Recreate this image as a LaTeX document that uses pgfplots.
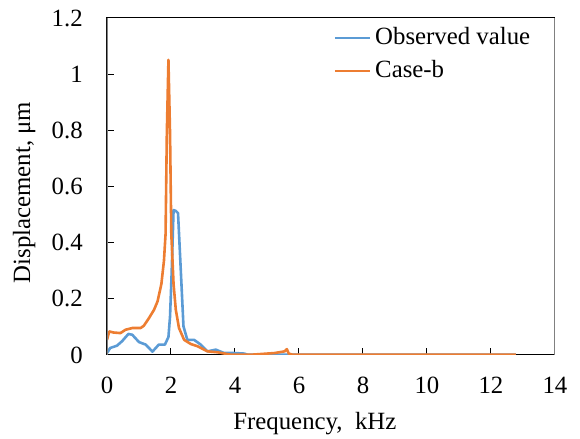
\documentclass[border=0pt]{standalone}
\usepackage{pgfplots}
\pgfplotsset{compat=1.18}
\usepackage{fontspec}
\setmainfont{Liberation Serif}
\definecolor{obsblue}{HTML}{5B9BD5}
\definecolor{caseorange}{HTML}{ED7D31}
\begin{document}
\fontsize{12.4}{14.5}\selectfont
\begin{tikzpicture}
\path[use as bounding box] (-53.5pt,-42pt) rectangle (236.5pt,177.5pt);
\begin{axis}[
  at={(0,0)}, anchor=south west,
  scale only axis, width=224pt, height=168.5pt,
  xmin=0, xmax=14, ymin=0, ymax=1.2,
  xtick={0,2,...,14}, ytick={0,0.2,...,1.2},
  tick align=inside, xtick pos=bottom, ytick pos=left,
  major tick length=3.5pt,
  tick style={black, line width=0.5pt},
  axis line style={black, line width=0.5pt},
  xticklabel={\rmfamily\pgfmathprintnumber[assume math mode=true]{\tick}},
  yticklabel={\rmfamily\pgfmathprintnumber[assume math mode=true,fixed,precision=1]{\tick}},
  every tick label/.append style={font=\rmfamily\fontsize{12.4}{14.5}\selectfont, text=black},
  every x tick label/.append style={yshift=-6.6pt},
  every y tick label/.append style={xshift=-7.8pt},
  xlabel={Frequency,\ \ kHz}, ylabel={Displacement, μm},
  label style={font=\fontsize{12.4}{14.5}\selectfont},
  xlabel style={at={(axis description cs:0.464,-0.2047)}, anchor=center},
  ylabel style={at={(axis description cs:-0.185,0.482)}, anchor=center, rotate=0},
  legend style={at={(0.505,0.985)}, anchor=north west, draw=none, fill=none,
    font=\fontsize{12.4}{14.5}\selectfont, inner sep=0pt, row sep=2pt,
    legend cell align=left},
  legend image code/.code={\draw[#1] (0pt,0pt) -- (17.5pt,0pt);},
  every axis plot/.append style={line width=1.3pt, line join=round},
]
\addplot[obsblue, mark=none] coordinates {
(0,0.007) (0.1,0.025) (0.31,0.033) (0.47,0.049) (0.67,0.075) (0.79,0.072)
(1.0,0.046) (1.21,0.037) (1.42,0.012) (1.62,0.037) (1.81,0.037) (1.92,0.064)
(1.97,0.137) (2.02,0.29) (2.08,0.516) (2.15,0.513) (2.22,0.505) (2.30,0.316)
(2.39,0.102) (2.51,0.054) (2.72,0.054) (2.93,0.037) (3.14,0.013) (3.40,0.019)
(3.66,0.007) (3.98,0.007) (4.29,0.005) (4.4,0.001) (5.0,0.001) (6.0,0.001)
(7.0,0.001) (8.0,0.001) (9.0,0.001) (10.0,0.001) (11.0,0.001) (12.0,0.001) (12.78,0.001)
};
\addlegendentry{Observed value}
\addplot[caseorange, mark=none] coordinates {
(0,0.054) (0.07,0.084) (0.21,0.080) (0.42,0.078) (0.58,0.09) (0.79,0.096)
(1.05,0.096) (1.15,0.104) (1.31,0.131) (1.47,0.161) (1.58,0.191) (1.70,0.253)
(1.78,0.336) (1.83,0.43) (1.87,0.79) (1.92,1.051) (1.97,0.79) (2.01,0.43)
(2.08,0.253) (2.15,0.161) (2.25,0.096) (2.41,0.054) (2.62,0.039) (2.83,0.031)
(3.14,0.013) (3.46,0.0095) (3.87,0.001) (4.5,0.001) (5.24,0.007) (5.55,0.013)
(5.62,0.021) (5.68,0.005) (5.8,0.001) (7.0,0.001) (8.0,0.001) (9.0,0.001)
(10.0,0.001) (11.0,0.001) (12.0,0.001) (12.78,0.001)
};
\addlegendentry{Case-b}
\draw[gray, line width=1pt] (rel axis cs:0,0) -- (rel axis cs:0,1);
\draw[gray, line width=1pt] (rel axis cs:1,0) -- (rel axis cs:1,1);
\end{axis}
\end{tikzpicture}
\end{document}
